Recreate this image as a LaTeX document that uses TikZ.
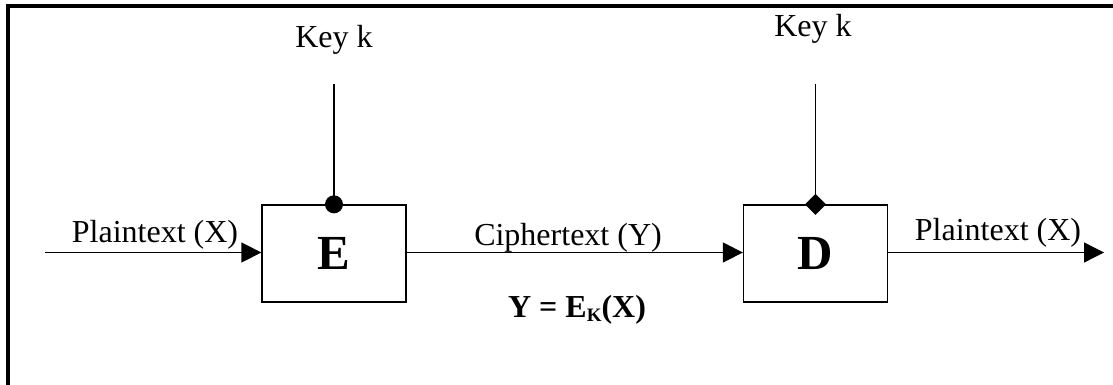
\documentclass[tikz,border=0pt]{standalone}
\usepackage{fontspec}
\setmainfont{Liberation Serif}
\usetikzlibrary{arrows.meta,shapes.geometric}
\tikzset{
  blk/.style={draw,line width=1.3pt,minimum width=144pt,minimum height=97pt,inner sep=0pt,font=\fontsize{49}{49}\selectfont\bfseries},
  wire/.style={line width=1.3pt},
  arr/.style={wire,-{Triangle[length=20pt,width=20pt]}},
  lbl/.style={anchor=base,inner sep=0pt,font=\fontsize{32}{32}\selectfont},
}
\begin{document}
\begin{tikzpicture}[x=1pt,y=-1pt]
\useasboundingbox (0,0) rectangle (1113,385);
\draw[line width=4pt] (8,385) -- (8,6) -- (1113,6);
\node[blk] (E) at (334,253.5) {\raisebox{-1pt}{E}};
\node[blk] (D) at (815.5,253.5) {\raisebox{-1pt}{D}};
\coordinate (in) at (45,252.5);
\coordinate (out) at (1104,252.5);
\coordinate (kE) at (334,84);
\coordinate (kD) at (815.5,84);
\draw[arr] (in) -- (in -| E.west);
\draw[arr] (E.east |- in) -- (in -| D.west);
\draw[arr] (D.east |- in) -- (out);
\draw[wire] (kE) -- (E.north);
\draw[wire] (kD) -- (D.north);
\fill (E.north) circle (9pt);
\node[diamond,fill,inner sep=0pt,minimum size=21pt] (dm) at (D.north) {};
\node[lbl] (pl1) at (155,242) {Plaintext (X)};
\node[lbl] (ct) at (568,245) {Ciphertext (Y)};
\node[lbl] (pl2) at (998,240) {Plaintext (X)};
\node[lbl] (k1) at (334,48) {Key k};
\node[lbl] (k2) at (813,37) {Key k};
\node[lbl,font=\fontsize{32}{32}\selectfont\bfseries] (eq) at (577,317) {Y = E\raisebox{-4pt}{\fontsize{19}{19}\selectfont K}(X)};
\end{tikzpicture}
\end{document}
